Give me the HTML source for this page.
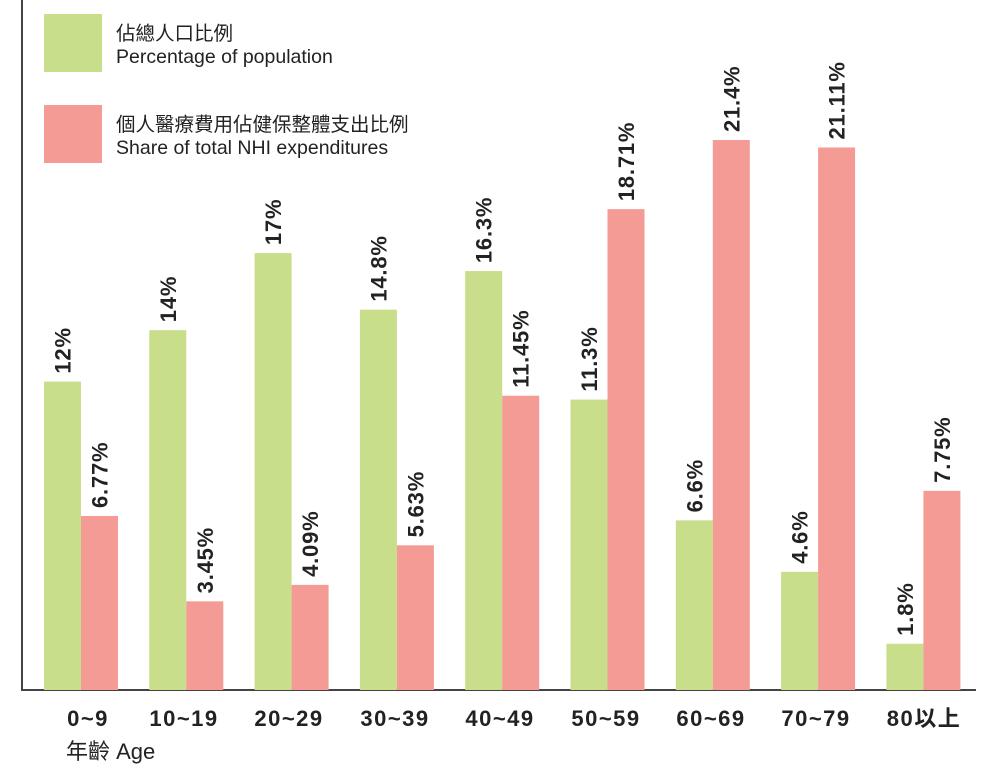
<!DOCTYPE html>
<html><head><meta charset="utf-8"><style>
body{margin:0;background:#fff;}
svg{display:block;}
</style></head><body>
<svg width="1000" height="774" xmlns="http://www.w3.org/2000/svg" font-family="'Liberation Sans','Noto Sans CJK TC',sans-serif">
<line x1="22" y1="0" x2="22" y2="691" stroke="#444" stroke-width="2"/>
<line x1="21" y1="690" x2="976" y2="690" stroke="#444" stroke-width="2"/>
<rect x="44" y="14" width="58" height="58" fill="#c8de8a"/>
<rect x="44" y="105" width="58" height="58" fill="#f49b96"/>
<g font-size="19.5" fill="#222">
<text x="116" y="40">佔總人口比例</text>
<text x="116" y="63">Percentage of population</text>
<text x="116" y="131">個人醫療費用佔健保整體支出比例</text>
<text x="116" y="154">Share of total NHI expenditures</text>
</g>
<g id="bars"></g>
<g font-size="22" font-weight="bold" fill="#222" text-anchor="middle" letter-spacing="1.5">
<text x="88" y="726">0~9</text>
<text x="184" y="726">10~19</text>
<text x="289" y="726">20~29</text>
<text x="395" y="726">30~39</text>
<text x="500" y="726">40~49</text>
<text x="606" y="726">50~59</text>
<text x="711" y="726">60~69</text>
<text x="816" y="726">70~79</text>
<text x="924" y="726">80以上</text>
</g>
<text x="66" y="759" font-size="22" fill="#222">年齡 Age</text>
<script>
var d=[[12,6.77,"12%","6.77%"],[14,3.45,"14%","3.45%"],[17,4.09,"17%","4.09%"],[14.8,5.63,"14.8%","5.63%"],[16.3,11.45,"16.3%","11.45%"],[11.3,18.71,"11.3%","18.71%"],[6.6,21.4,"6.6%","21.4%"],[4.6,21.11,"4.6%","21.11%"],[1.8,7.75,"1.8%","7.75%"]];
var ns="http://www.w3.org/2000/svg",g=document.getElementById("bars"),s=25.7;
function el(t,a,txt){var e=document.createElementNS(ns,t);for(var k in a)e.setAttribute(k,a[k]);if(txt)e.textContent=txt;g.appendChild(e);}
d.forEach(function(r,i){
 var x=44+i*105.3;
 [[r[0],"#c8de8a",x,r[2]],[r[1],"#f49b96",x+37,r[3]]].forEach(function(b){
  var h=b[0]*s,y=690-h;
  el("rect",{x:b[2],y:y,width:37,height:h,fill:b[1]});
  var cx=b[2]+18.5+8,ty=y-8;
  el("text",{x:cx,y:ty,transform:"rotate(-90 "+cx+" "+ty+")","font-size":"22","font-weight":"bold","letter-spacing":"0.8",fill:"#222"},b[3]);
 });
});
</script>
</svg>
</body></html>
